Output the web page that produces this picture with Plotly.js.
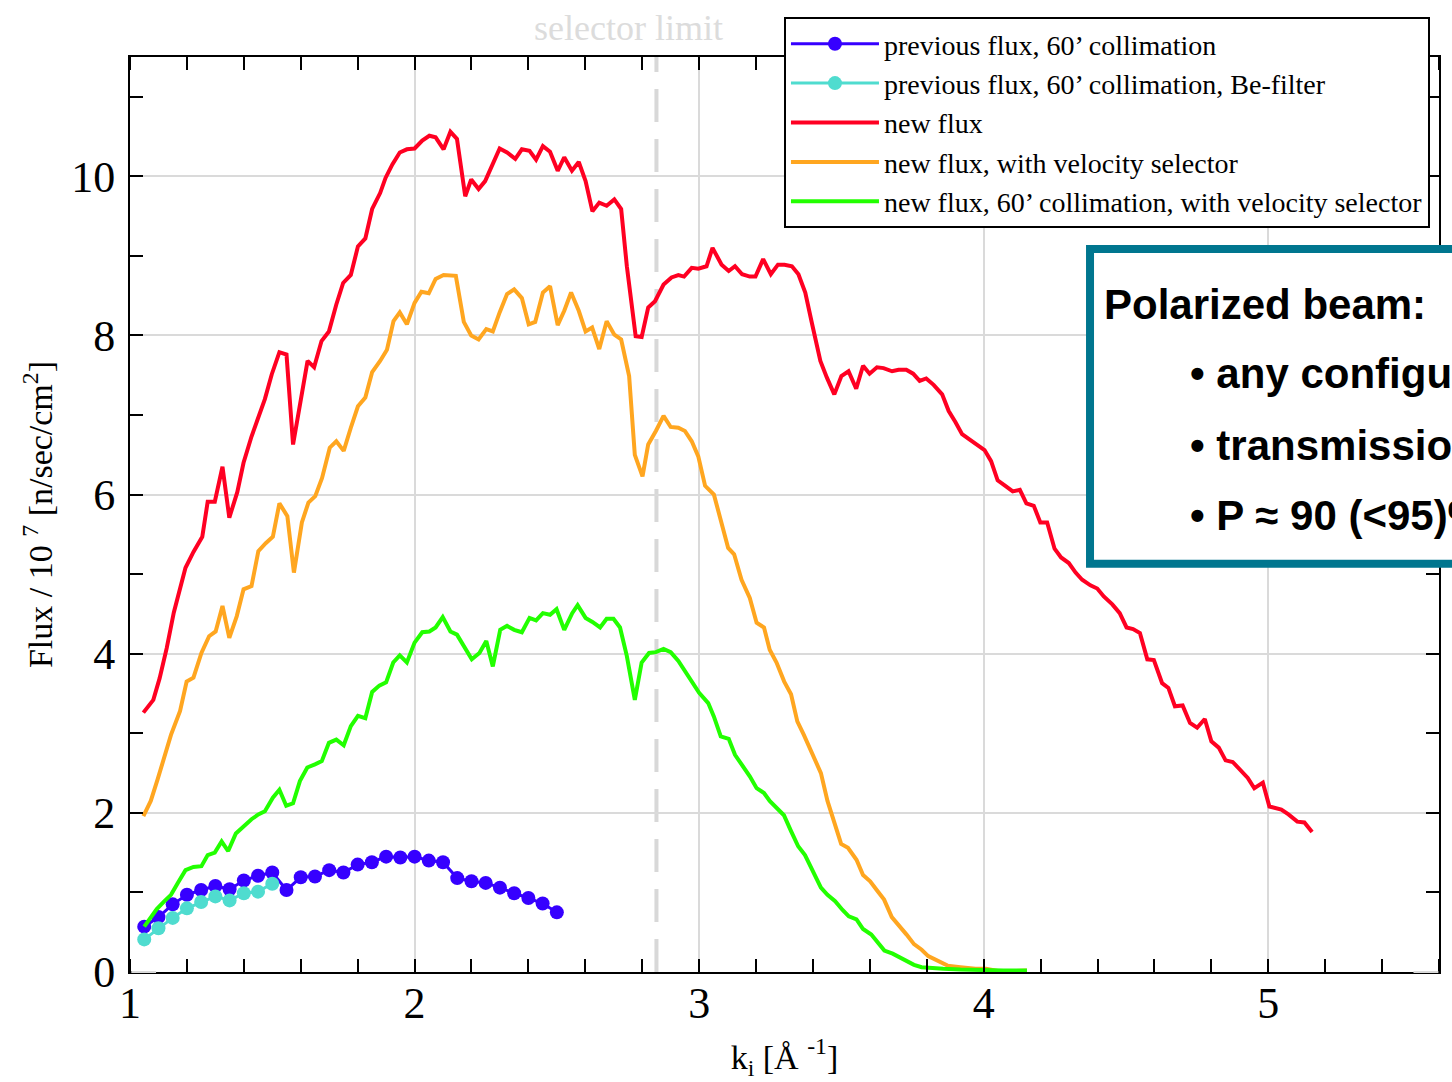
<!DOCTYPE html>
<html>
<head>
<meta charset="utf-8">
<script src="https://cdn.plot.ly/plotly-3.0.1.min.js"></script>
<style>
  html, body { margin: 0; padding: 0; background: #ffffff; overflow: hidden; }
  #chart { width: 1452px; height: 1082px; }
</style>
</head>
<body>
<div id="chart"></div>
<script>
// ---------------- data ----------------
const selectorLimit = 2.85;

const prevK = [1.05,1.10,1.15,1.20,1.25,1.30,1.35,1.40,1.45,1.50,1.55,1.60,1.65,1.70,1.75,
               1.80,1.85,1.90,1.95,2.00,2.05,2.10,2.15,2.20,2.25,2.30,2.35,2.40,2.45,2.50];
const prevFlux = [0.57,0.69,0.85,0.97,1.03,1.08,1.04,1.15,1.21,1.25,1.03,1.19,1.20,1.28,1.25,
                  1.35,1.38,1.45,1.44,1.45,1.40,1.38,1.18,1.14,1.12,1.06,0.99,0.93,0.86,0.75];

const beK = [1.05,1.10,1.15,1.20,1.25,1.30,1.35,1.40,1.45,1.50];
const beFlux = [0.41,0.55,0.68,0.80,0.88,0.95,0.90,0.99,1.01,1.11];

const newK = [1.047,1.082,1.104,1.129,1.154,1.173,1.195,1.223,1.254,1.273,1.298,1.325,1.349,1.377,1.399,
  1.427,1.474,1.498,1.525,1.550,1.573,1.624,1.647,1.673,1.699,1.725,1.749,1.776,1.801,1.827,1.851,1.879,
  1.898,1.922,1.948,1.973,2.000,2.027,2.052,2.074,2.102,2.126,2.149,2.178,2.199,2.225,2.248,2.299,2.325,
  2.354,2.377,2.404,2.427,2.451,2.476,2.503,2.526,2.553,2.577,2.601,2.625,2.649,2.675,2.702,2.726,2.746,
  2.777,2.798,2.821,2.845,2.875,2.903,2.927,2.947,2.974,2.997,3.026,3.047,3.079,3.104,3.126,3.151,3.178,
  3.198,3.225,3.252,3.277,3.300,3.326,3.349,3.373,3.396,3.426,3.449,3.475,3.500,3.525,3.552,3.576,3.599,
  3.625,3.648,3.678,3.701,3.728,3.752,3.775,3.798,3.824,3.854,3.877,3.901,3.924,3.951,3.977,4.003,4.026,
  4.049,4.076,4.102,4.127,4.150,4.176,4.199,4.223,4.249,4.272,4.299,4.323,4.346,4.375,4.399,4.422,4.452,
  4.478,4.502,4.525,4.549,4.575,4.598,4.627,4.649,4.672,4.699,4.725,4.750,4.777,4.800,4.826,4.850,4.875,
  4.901,4.928,4.951,4.981,5.004,5.046,5.071,5.102,5.127,5.154];
const newFlux = [3.26,3.42,3.69,4.07,4.52,4.80,5.08,5.28,5.47,5.91,5.91,6.35,5.71,6.03,6.40,
  6.73,7.20,7.51,7.79,7.76,6.63,7.68,7.60,7.93,8.05,8.39,8.66,8.76,9.12,9.22,9.59,9.79,
  9.98,10.15,10.30,10.34,10.35,10.45,10.51,10.49,10.34,10.56,10.47,9.75,9.96,9.84,9.94,10.35,10.30,
  10.22,10.34,10.32,10.21,10.38,10.31,10.07,10.24,10.07,10.18,9.94,9.56,9.67,9.63,9.71,9.59,8.87,
  7.99,7.98,8.35,8.43,8.64,8.73,8.76,8.74,8.85,8.84,8.87,9.10,8.89,8.81,8.87,8.77,8.74,
  8.74,8.96,8.77,8.89,8.89,8.87,8.77,8.54,8.16,7.68,7.47,7.26,7.49,7.55,7.33,7.62,7.52,
  7.60,7.59,7.55,7.57,7.57,7.52,7.43,7.46,7.38,7.26,7.05,6.91,6.76,6.69,6.62,6.56,6.42,
  6.18,6.11,6.04,6.06,5.89,5.86,5.65,5.65,5.32,5.21,5.14,5.02,4.93,4.86,4.82,4.72,4.62,
  4.51,4.33,4.31,4.26,3.93,3.92,3.63,3.57,3.34,3.35,3.13,3.07,3.18,2.90,2.82,2.66,2.64,
  2.54,2.44,2.31,2.38,2.08,2.04,1.98,1.89,1.88,1.76];

const selK = [1.047,1.073,1.097,1.121,1.144,1.176,1.199,1.223,1.251,1.278,1.301,1.325,1.349,1.375,1.399,
  1.427,1.451,1.477,1.502,1.525,1.553,1.576,1.604,1.627,1.651,1.675,1.702,1.725,1.751,1.776,1.801,1.827,
  1.851,1.879,1.903,1.926,1.948,1.973,2.000,2.024,2.050,2.074,2.102,2.145,2.173,2.199,2.225,2.252,2.275,
  2.299,2.325,2.350,2.377,2.401,2.424,2.451,2.476,2.503,2.526,2.550,2.577,2.601,2.624,2.649,2.675,2.702,
  2.726,2.754,2.774,2.801,2.821,2.848,2.875,2.900,2.927,2.950,2.974,2.997,3.021,3.052,3.076,3.102,3.123,
  3.149,3.178,3.202,3.228,3.248,3.272,3.299,3.323,3.345,3.368,3.398,3.428,3.451,3.473,3.499,3.523,3.553,
  3.576,3.601,3.624,3.650,3.677,3.707,3.729,3.755,3.782,3.805,3.843,3.873,3.918,3.971,4.008,4.054,4.107,4.152];
const selFlux = [1.96,2.15,2.42,2.69,2.98,3.28,3.65,3.70,4.01,4.22,4.28,4.60,4.20,4.47,4.81,
  4.85,5.29,5.39,5.47,5.89,5.73,5.02,5.65,5.90,5.98,6.21,6.59,6.67,6.55,6.84,7.11,7.22,
  7.54,7.68,7.82,8.18,8.29,8.14,8.41,8.55,8.53,8.71,8.76,8.75,8.17,8.00,7.95,8.08,8.05,
  8.29,8.52,8.58,8.47,8.14,8.17,8.54,8.62,8.13,8.31,8.54,8.31,8.05,8.10,7.83,8.18,8.01,
  7.95,7.49,6.50,6.23,6.63,6.80,6.99,6.85,6.84,6.80,6.67,6.48,6.11,6.00,5.67,5.33,5.25,
  4.93,4.70,4.39,4.33,4.05,3.89,3.65,3.49,3.15,2.98,2.73,2.50,2.15,1.92,1.61,1.56,1.41,
  1.22,1.14,1.03,0.91,0.69,0.57,0.47,0.35,0.28,0.20,0.13,0.08,0.06,0.04,0.04,0.01,0.01,0.02];

const colK = [1.050,1.073,1.094,1.121,1.144,1.168,1.195,1.223,1.251,1.273,1.298,1.322,1.345,1.372,1.399,
  1.427,1.451,1.474,1.502,1.525,1.549,1.573,1.597,1.623,1.650,1.674,1.699,1.725,1.751,1.776,1.801,1.827,
  1.851,1.876,1.900,1.925,1.948,1.973,2.000,2.027,2.052,2.074,2.099,2.126,2.149,2.178,2.201,2.228,2.252,
  2.275,2.301,2.325,2.350,2.377,2.404,2.427,2.451,2.476,2.499,2.526,2.554,2.573,2.601,2.625,2.652,2.675,
  2.699,2.722,2.746,2.774,2.798,2.824,2.848,2.875,2.900,2.927,2.950,2.974,3.000,3.032,3.052,3.076,3.104,
  3.126,3.154,3.178,3.202,3.228,3.248,3.272,3.298,3.323,3.348,3.372,3.398,3.428,3.451,3.478,3.504,3.526,
  3.553,3.576,3.605,3.624,3.651,3.680,3.707,3.729,3.755,3.782,3.812,3.858,3.918,3.993,4.069,4.152];
const colFlux = [0.57,0.68,0.79,0.89,0.97,1.12,1.28,1.32,1.33,1.47,1.50,1.64,1.52,1.74,1.83,
  1.92,1.98,2.02,2.19,2.29,2.09,2.12,2.40,2.57,2.61,2.65,2.88,2.92,2.85,3.09,3.22,3.19,
  3.52,3.60,3.64,3.89,3.98,3.89,4.14,4.27,4.28,4.33,4.46,4.28,4.24,4.07,3.93,4.01,4.16,
  3.84,4.30,4.35,4.30,4.27,4.45,4.42,4.51,4.49,4.56,4.30,4.51,4.61,4.45,4.40,4.33,4.44,
  4.44,4.33,3.97,3.42,3.89,4.01,4.02,4.06,4.02,3.91,3.79,3.65,3.51,3.38,3.21,2.96,2.93,
  2.73,2.59,2.46,2.31,2.25,2.15,2.06,1.97,1.77,1.58,1.47,1.29,1.06,0.97,0.89,0.78,0.70,
  0.66,0.54,0.47,0.38,0.27,0.23,0.18,0.15,0.09,0.06,0.05,0.04,0.03,0.02,0.02,0.02];

const seriesNames = [
  "previous flux, 60’ collimation",
  "previous flux, 60’ collimation, Be-filter",
  "new flux",
  "new flux, with velocity selector",
  "new flux, 60’ collimation, with velocity selector"
];
const xTickVals = [1, 2, 3, 4, 5];
const yTickVals = [0, 2, 4, 6, 8, 10];

// ---------------- styling ----------------
const SERIF = "'Liberation Serif', 'Times New Roman', serif";
const SANS = "'Liberation Sans', Arial, sans-serif";
const GRID = "#dadada";

const traces = [
  { x: prevK, y: prevFlux, name: seriesNames[0], mode: "lines+markers", type: "scatter",
    line: { color: "#3600ff", width: 3 }, marker: { color: "#3600ff", size: 14 } },
  { x: beK, y: beFlux, name: seriesNames[1], mode: "lines+markers", type: "scatter",
    line: { color: "#4fdccf", width: 3 }, marker: { color: "#4fdccf", size: 14 } },
  { x: newK, y: newFlux, name: seriesNames[2], mode: "lines", type: "scatter",
    line: { color: "#ff0022", width: 4 } },
  { x: selK, y: selFlux, name: seriesNames[3], mode: "lines", type: "scatter",
    line: { color: "#ffa620", width: 4 } },
  { x: colK, y: colFlux, name: seriesNames[4], mode: "lines", type: "scatter",
    line: { color: "#22ff00", width: 4 } }
];

const layout = {
  width: 1452, height: 1082,
  margin: { l: 130, r: 13, t: 57, b: 110, autoexpand: false },
  paper_bgcolor: "#ffffff", plot_bgcolor: "#ffffff",
  font: { family: SERIF, color: "#000000" },
  showlegend: true,
  legend: {
    x: 0.4996, y: 1.0437, xanchor: "left", yanchor: "top",
    bgcolor: "#ffffff", bordercolor: "#000000", borderwidth: 2,
    font: { family: SERIF, size: 28, color: "#000000" },
    itemwidth: 88, tracegroupgap: 0
  },
  xaxis: {
    range: [1, 5.6], tickmode: "array", tickvals: xTickVals,
    ticks: "", showgrid: true, gridcolor: GRID, gridwidth: 2,
    showline: true, linecolor: "#000000", linewidth: 2, mirror: "ticks",
    zeroline: false, tickfont: { family: SERIF, size: 44 },
    ticklabelstandoff: -9,
    minor: { dtick: 0.2, tick0: 1, ticks: "inside", ticklen: 13, tickwidth: 2,
             tickcolor: "#000000", showgrid: false },
    title: { text: "k<sub>i</sub> [Å <sup>-1</sup>]", font: { family: SERIF, size: 34 }, standoff: 18 }
  },
  yaxis: {
    range: [0, 11.5], tickmode: "array", tickvals: yTickVals,
    ticks: "", showgrid: true, gridcolor: GRID, gridwidth: 2,
    showline: true, linecolor: "#000000", linewidth: 2, mirror: "ticks",
    zeroline: false, tickfont: { family: SERIF, size: 44 },
    ticklabelstandoff: 4,
    minor: { dtick: 1, tick0: 0, ticks: "inside", ticklen: 13, tickwidth: 2,
             tickcolor: "#000000", showgrid: false },
    title: { text: "Flux / 10 <sup>7</sup> [n/sec/cm<sup>2</sup>]", font: { family: SERIF, size: 34 }, standoff: 8 }
  },
  shapes: [
    // selector limit dashed line
    { type: "line", xref: "x", yref: "paper", x0: selectorLimit, x1: selectorLimit, y0: 0, y1: 1,
      line: { color: "#d8d8d8", width: 4, dash: "33px,17px" }, layer: "below" },
    // gray ends of the bottom frame
    { type: "line", xref: "paper", yref: "paper", x0: 0.001, x1: 0.0199, y0: 0, y1: 0,
      line: { color: GRID, width: 2 }, layer: "above" },
    { type: "line", xref: "paper", yref: "paper", x0: 0.9805, x1: 0.9995, y0: 0, y1: 0,
      line: { color: GRID, width: 2 }, layer: "above" },
    // polarized beam box
    { type: "rect", xref: "paper", yref: "paper", x0: 0.7334, x1: 1.06, y0: 0.4461, y1: 0.7902,
      line: { color: "#00768f", width: 8 }, fillcolor: "#ffffff", layer: "above" }
  ],
  annotations: [
    { xref: "paper", yref: "paper", x: 0.3812, y: 1.0317, xanchor: "center", yanchor: "middle",
      text: "selector limit", showarrow: false,
      font: { family: SERIF, size: 36, color: "#dcdcdc" } },
    { xref: "paper", yref: "paper", x: 0.7426, y: 0.729, xanchor: "left", yanchor: "middle",
      text: "<b>Polarized beam:</b>", showarrow: false,
      font: { family: SANS, size: 42, color: "#000000" } },
    { xref: "paper", yref: "paper", x: 0.8083, y: 0.6537, xanchor: "left", yanchor: "middle",
      text: "<b>• any configuration</b>", showarrow: false,
      font: { family: SANS, size: 42, color: "#000000" } },
    { xref: "paper", yref: "paper", x: 0.8083, y: 0.5755, xanchor: "left", yanchor: "middle",
      text: "<b>• transmission</b>", showarrow: false,
      font: { family: SANS, size: 42, color: "#000000" } },
    { xref: "paper", yref: "paper", x: 0.8083, y: 0.4985, xanchor: "left", yanchor: "middle",
      text: "<b>• P ≈ 90 (<95)%</b>", showarrow: false,
      font: { family: SANS, size: 42, color: "#000000" } }
  ]
};

Plotly.newPlot("chart", traces, layout, { displayModeBar: false, responsive: false });
</script>
</body>
</html>
